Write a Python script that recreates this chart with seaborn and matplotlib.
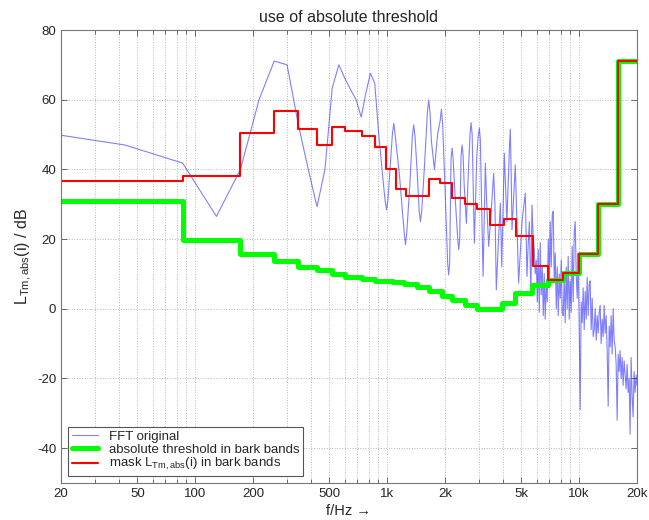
import matplotlib
matplotlib.use("Agg")
import matplotlib.pyplot as plt
import matplotlib.ticker as mticker
import seaborn as sns
import pandas as pd

# FFT magnitude spectrum (Hz, dB)
fft_hz = [20, 43, 86, 129, 172, 215, 258, 301, 344, 388, 431, 474, 517, 560, 603, 646,
          689, 732, 775, 818, 861, 904, 947, 975, 991, 1008, 1034, 1064, 1082, 1100,
          1160, 1225, 1245, 1265, 1310, 1352, 1374, 1396, 1430, 1468, 1490, 1512, 1560,
          1620, 1646, 1672, 1700, 1762, 1830, 1888, 1916, 1944, 2000, 2065, 2090, 2115,
          2150, 2178, 2205, 2270, 2330, 2357, 2385, 2425, 2455, 2485, 2520, 2585, 2650,
          2700, 2734, 2770, 2844, 2930, 2985, 3020, 3055, 3157, 3246, 3300, 3377, 3500,
          3585, 3640, 3700, 3800, 3883, 3950, 4074, 4200, 4330, 4377, 4420, 4467, 4646,
          4834, 5040, 5238, 5347, 5420, 5500, 5600, 5677, 5760, 5835, 5900,
          5976, 6048, 6122, 6195, 6270, 6345, 6420, 6498, 6576, 6654, 6736, 6816, 6900,
          6983, 7063, 7150, 7238, 7325, 7414, 7503, 7594, 7685, 7778, 7872, 7964, 8062,
          8158, 8256, 8356, 8457, 8560, 8662, 8766, 8872, 8976, 9086, 9196, 9306, 9420,
          9532, 9648, 9764, 9882, 10000, 10116, 10240, 10366, 10490, 10618, 10746, 10876,
          11006, 11140, 11274, 11403, 11546, 11686, 11826, 11970, 12114, 12260, 12408,
          12558, 12708, 12854, 13014, 13172, 13330, 13492, 13654, 13820, 13986, 14156,
          14326, 14490, 14672, 14850, 15028, 15210, 15394, 15580, 15768, 15958, 16150,
          16330, 16540, 16738, 16940, 17144, 17350, 17560, 17770, 17988, 18204, 18410,
          18642, 18862, 19090, 19320, 19552, 19788, 20000]
fft_db = [49.8, 47.0, 41.8, 26.5, 40, 60, 71.1, 70.0, 53, 40, 29.3, 40, 63.3, 70, 66, 62.8,
          60, 55, 62, 67.6, 64.7, 50, 38, 31, 28.4, 31, 40, 50, 53.2, 50,
          38, 22, 18.4, 22, 35, 49.5, 52.8, 49.5, 40, 28, 25, 28, 40,
          56.5, 59.9, 56, 48, 40, 50, 54, 57.3, 53, 35, 13, 9.7, 13,
          43, 46.1, 43, 30, 20, 17, 20, 44, 47, 44, 35, 24.5, 40,
          50, 53.4, 50, 18.8, 44, 50, 51.8, 48.5, 9.3, 41.8, 30, 17.9, 30,
          38.9, 30, 5.4, 20, 30.3, 12, 44.6, 25, 46, 51.5, 40, 22.7, 41.3,
          7.4, 25, 33.2, 9.3, 18, 25, 4, 29.8, 20, 16.9, 10,
          14, 2, 17, -1, 19, 4, 12, -2, 10, -3, 8, 2, 20,
          6, 25, 12, 27, 28, 8, 16, 0, 12, -2, 10, 3, 14,
          -1, -2, 9, -4, 12, 0, 15, -3, 8, -1, 18, 2, 22,
          25, 10, 3, 14, -5, -29, 2, -4, 6, -6, 5, -3,
          9, -2, 7, 8, -6, 3, -8, -6, 0, -9, -2,
          -7, -1, 1, -10, -3, -8, 1, -7, -2, -12, -28,
          -5, -11, -2, -13, 0, -9, -11, -16, -32, -13, -18,
          -12, -20, -14, -22, -15, -19, -23, -16, -24, -20, -36,
          -14, -25, -31, -18, -24, -19, -22]

# absolute threshold in bark bands (step edges in Hz, level in dB)
thr_edges = [20, 86, 172, 258, 344, 431, 517, 603, 740, 862, 1078, 1216, 1432, 1645,
             1932, 2178, 2553, 2937, 3963, 4646, 5700, 6843, 8226, 10030, 12600, 15890, 20000]
thr_levels = [31, 19.8, 15.8, 13.6, 12.1, 11, 10, 9.2, 8.6, 8.1, 7.6, 7.0, 6.2, 5.2,
              3.7, 2.4, 1.0, 0.0, 1.6, 4.5, 6.8, 8.3, 10.4, 15.8, 30.1, 71.2, 71.2]

# mask L_Tm,abs(i) in bark bands
mask_edges = [20, 86, 172, 258, 344, 431, 517, 603, 735, 862, 991, 1117, 1259, 1645,
              1876, 2178, 2553, 2937, 3415, 4038, 4702, 5716, 6843, 8226, 10030, 12600,
              15890, 20000]
mask_levels = [36.8, 38.2, 50.4, 56.8, 51.6, 47, 52.3, 51, 49.6, 46.4, 40.1, 34.4, 32.4,
               37.2, 36, 31.7, 30.1, 28.7, 24.1, 25.7, 20.9, 12.3, 8.3, 10.4, 15.8, 30.1,
               71.2, 71.2]

major_ticks = [20, 50, 100, 200, 500, 1000, 2000, 5000, 10000, 20000]
major_labels = ['20', '50', '100', '200', '500', '1k', '2k', '5k', '10k', '20k']
minor_ticks = [30, 40, 60, 70, 80, 90, 300, 400, 600, 700, 800, 900,
               3000, 4000, 6000, 7000, 8000, 9000]

sns.set_style('ticks')
plt.rcParams['font.family'] = ['Liberation Sans', 'DejaVu Sans']
plt.rcParams['mathtext.fontset'] = 'custom'
plt.rcParams['mathtext.rm'] = 'Liberation Sans'
plt.rcParams['mathtext.it'] = 'Liberation Sans'
plt.rcParams['axes.unicode_minus'] = False

fig = plt.figure(figsize=(6.49, 5.2), dpi=100)
ax = fig.add_axes([0.094, 0.0712, 0.8875, 0.8711])

fft_df = pd.DataFrame({'f': fft_hz, 'L': fft_db})
thr_df = pd.DataFrame({'f': thr_edges, 'L': thr_levels})
mask_df = pd.DataFrame({'f': mask_edges, 'L': mask_levels})

sns.lineplot(data=fft_df, x='f', y='L', ax=ax, color='#0000ff', alpha=0.5, lw=0.8,
             estimator=None, label='FFT original')
sns.lineplot(data=thr_df, x='f', y='L', ax=ax, color='#00ff00', lw=3.6,
             drawstyle='steps-post', estimator=None, label='absolute threshold in bark bands')
sns.lineplot(data=mask_df, x='f', y='L', ax=ax, color='#ff0000', lw=1.5,
             drawstyle='steps-post', estimator=None,
             label=r'mask L$_{\mathregular{Tm,abs}}$(i) in bark bands')

ax.set_xscale('log')
ax.set_xlim(20, 20000)
ax.set_ylim(-50, 80)
ax.xaxis.set_major_locator(mticker.FixedLocator(major_ticks))
ax.xaxis.set_major_formatter(mticker.FixedFormatter(major_labels))
ax.xaxis.set_minor_locator(mticker.FixedLocator(minor_ticks))
ax.xaxis.set_minor_formatter(mticker.NullFormatter())
ax.yaxis.set_major_locator(mticker.FixedLocator([-40, -20, 0, 20, 40, 60, 80]))

ax.grid(which='both', axis='x', color='#b8b8b8', linestyle=':', lw=0.7)
ax.grid(which='major', axis='y', color='#b8b8b8', linestyle=':', lw=0.7)

ax.tick_params(which='both', direction='in', top=True, right=True, labelsize=9.5,
               color='#555555', width=0.6)
ax.tick_params(which='major', length=4)
ax.tick_params(which='minor', length=3)
for s in ax.spines.values():
    s.set_color('#777777')
    s.set_linewidth(0.8)

ax.set_title('use of absolute threshold', fontsize=11.5, pad=6)
ax.set_xlabel('f/Hz \u2192', fontsize=10.5, labelpad=3)
ax.set_ylabel(r'L$_{\mathregular{Tm,abs}}$(i) / dB', fontsize=11.5, labelpad=2)

leg = ax.legend(loc='lower left', fontsize=9.5, frameon=True, fancybox=False,
                edgecolor='#555555', framealpha=1, handlelength=2.0,
                labelspacing=0.05, borderaxespad=0.5, borderpad=0.3)
leg.get_frame().set_linewidth(0.8)

fig.savefig('out.png', dpi=100)
